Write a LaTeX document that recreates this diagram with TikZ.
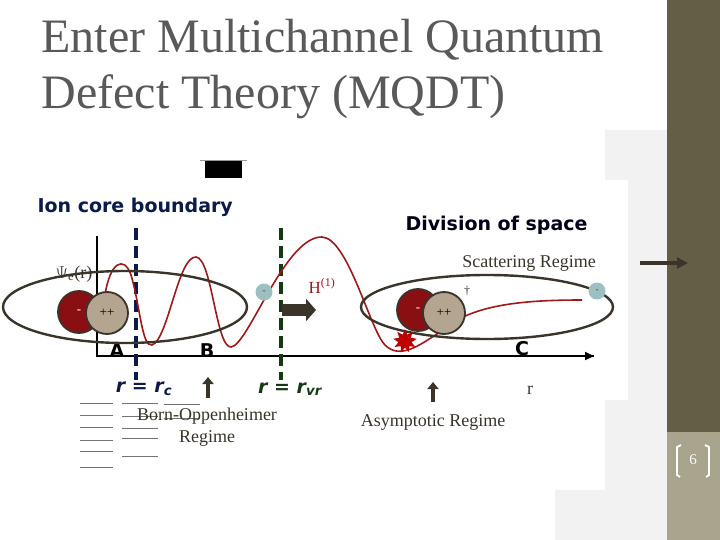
\documentclass[tikz,border=0pt]{standalone}
\usepackage{fontspec}
\setmainfont{Liberation Serif}
\newfontfamily\vfont{DejaVu Sans}
\usetikzlibrary{arrows.meta,shapes.geometric}
\definecolor{olive}{HTML}{655E47}
\definecolor{lolive}{HTML}{A9A48E}
\definecolor{navy}{HTML}{0A1A4A}
\definecolor{dgreen}{HTML}{143A14}
\definecolor{wred}{HTML}{A01818}
\definecolor{dred}{HTML}{8A0F12}
\definecolor{tan}{HTML}{B3A58F}
\definecolor{teal}{HTML}{9DBFC2}
\definecolor{dk}{HTML}{3A342A}
\tikzset{
 ell/.style={draw=dk,line width=2.4pt},
 elec/.style={circle,fill=dred,draw=dk,line width=1.8pt,minimum size=42pt,inner sep=0pt,text=white,font=\fontsize{13}{13}\selectfont},
 ion/.style={circle,fill=tan,draw=dk,line width=1.8pt,minimum size=42pt,inner sep=0pt,font=\fontsize{13}{13}\selectfont},
 fe/.style={circle,fill=teal,minimum size=17pt,inner sep=0pt,font=\small,text=dk},
 lbl/.style={font=\vfont\bfseries\fontsize{19}{19}\selectfont},
 rlbl/.style={font=\vfont\bfseries\itshape\fontsize{19}{19}\selectfont},
 reg/.style={font=\fontsize{18}{18}\selectfont,text=dk},
 uparr/.style={-{Triangle[length=7pt,width=11pt]},line width=3.5pt,draw=dk},
 gl/.style={draw=black!55,line width=1pt},
}
\begin{document}
\begin{tikzpicture}[x=1pt,y=-1pt]
\useasboundingbox (0,0) rectangle (720,540);
\fill[white] (0,0) rectangle (720,540);
\fill[black!5] (555,130) rectangle (667,540);
\fill[white] (30,130) rectangle (605,490);
\fill[white] (30,180) rectangle (628,400);
\fill[olive] (667,0) rectangle (720,432);
\fill[lolive] (667,432) rectangle (720,540);
\node[font=\fontsize{15}{15}\selectfont,text=white] (pg) at (693,460) {6};
\draw[white,line width=1.8pt] (681,445) -- (677,447) -- (677,475) -- (680,477);
\draw[white,line width=1.8pt] (705,445) -- (709,447) -- (709,475) -- (706,477);
\node[anchor=west,font=\fontsize{48}{48}\selectfont,text=black!65] (t1) at (38,40) {Enter Multichannel Quantum};
\node[anchor=west,font=\fontsize{48}{48}\selectfont,text=black!65] (t2) at (38,97) {Defect Theory (MQDT)};
\fill[black] (205,160) rectangle (242,178);
\draw[black!40] (200,160) -- (247,160);
\node[lbl,text=navy,anchor=west] (icb) at (34,207) {Ion core boundary};
\node[lbl,text=black!90!blue,anchor=west] (dos) at (402,225) {Division of space};
\coordinate (o) at (97,356);
\coordinate (ytop) at (97,236);
\coordinate (xend) at (594,356);
\draw[line width=2.4pt] (ytop) -- (o) -- (xend);
\draw[-{Triangle[length=9pt,width=8pt]},line width=2.4pt] (580,356) -- (xend);
\draw[navy,line width=3.5pt,dash pattern=on 12pt off 6pt] (136,228) -- (136,380);
\draw[dgreen,line width=3.5pt,dash pattern=on 12pt off 6pt] (281,228) -- (281,380);
\node[lbl] (A) at (117,351) {A};
\node[lbl] (B) at (207,351) {B};
\node[lbl] (C) at (522,349) {C};
\node[rlbl,text=navy] (rc) at (144,389) {r = r\textsubscript{c}};
\node[rlbl,text=dgreen] (rvr) at (290,389) {r = r\textsubscript{vr}};
\draw[wred,line width=1.6pt] (105,295) .. controls (110,262) and (124,255) .. (131,275)
 .. controls (140,305) and (142,348) .. (152,345)
 .. controls (168,340) and (178,256) .. (196,257)
 .. controls (212,258) and (216,348) .. (231,347)
 .. controls (248,346) and (285,236) .. (322,237)
 .. controls (348,238) and (370,330) .. (385,345)
 .. controls (400,360) and (420,345) .. (440,332)
 .. controls (470,305) and (520,300) .. (582,300);
\draw[ell] (125,307) ellipse [x radius=122,y radius=36];
\draw[ell] (487,307) ellipse [x radius=126,y radius=32];
\node[elec] (e1) at (79,312) {-};
\node[ion] (i1) at (107,313) {++};
\node[elec] (e2) at (418,310) {-};
\node[ion] (i2) at (444,313) {++};
\node[fe] (f1) at (264,292) {-};
\node[fe] (f2) at (597,291) {-};
\node[star,star points=9,star point ratio=1.8,fill=red!75!black,minimum size=24pt,inner sep=0pt] (st) at (405,341) {};
\node[text=dk,font=\large] (dg) at (467,291) {†};
\node[text=wred,font=\fontsize{17}{17}\selectfont] (H) at (322,286) {H\textsuperscript{(1)}};
\coordinate (h1) at (282,310); \coordinate (h2) at (316,310);
\draw[-{Triangle[length=10pt,width=22pt]},line width=12pt,draw=dk] (h1) -- (h2);
\node[reg] (sr) at (529,263) {Scattering Regime};
\coordinate (a1) at (640,263); \coordinate (a2) at (688,263);
\draw[-{Triangle[length=11pt,width=11pt]},line width=3.5pt,draw=dk] (a1) -- (a2);
\node[reg] (psi) at (74,274) {$\Psi$\textsubscript{e}(r)};
\node[reg] (rr) at (530,390) {r};
\coordinate (u1a) at (208,398); \coordinate (u1b) at (208,377);
\draw[uparr] (u1a) -- (u1b);
\coordinate (u2a) at (433,402); \coordinate (u2b) at (433,382);
\draw[uparr] (u2a) -- (u2b);
\foreach \y in {403,415,427,440,451,467} \draw[gl] (80,\y) -- (113,\y);
\foreach \y in {403,416,428,438,456} \draw[gl] (122,\y) -- (158,\y);
\foreach \y in {404,418} \draw[gl] (164,\y) -- (200,\y);
\node[reg] (bo1) at (207,416) {Born-Oppenheimer};
\node[reg] (bo2) at (207,438) {Regime};
\node[reg] (ar) at (433,422) {Asymptotic Regime};
\end{tikzpicture}
\end{document}
